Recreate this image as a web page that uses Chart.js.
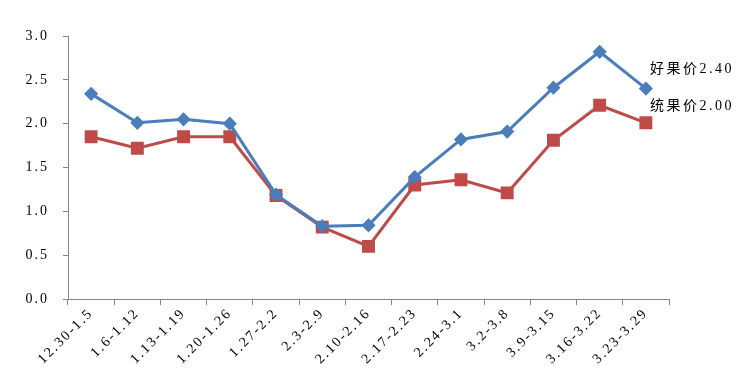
<!DOCTYPE html>
<html><head><meta charset="utf-8">
<script src="https://cdn.jsdelivr.net/npm/chart.js@4/dist/chart.umd.min.js"></script>
<style>html,body{margin:0;padding:0;background:#fff}#wrap{width:749px;height:382px;position:relative}</style>
</head><body><div id="wrap"><canvas id="c"></canvas></div>
<script>
const categories = ["12.30-1.5","1.6-1.12","1.13-1.19","1.20-1.26","1.27-2.2","2.3-2.9","2.10-2.16","2.17-2.23","2.24-3.1","3.2-3.8","3.9-3.15","3.16-3.22","3.23-3.29"];
const goodFruit = [2.34,2.01,2.05,2.00,1.19,0.83,0.84,1.39,1.82,1.91,2.41,2.82,2.40];
const commonFruit = [1.85,1.72,1.85,1.85,1.18,0.82,0.60,1.30,1.36,1.21,1.81,2.21,2.01];
const seriesNames = ["好果价","统果价"];
const labelValues = ["2.40","2.00"];
const yTicks = [0,0.5,1,1.5,2,2.5,3];

const FONT = "'Liberation Serif','Noto Sans CJK SC',serif";
const spacing = {
  id:'spacing',
  beforeLayout(chart){ chart.ctx.letterSpacing = '2px'; },
  beforeDraw(chart){ chart.ctx.letterSpacing = '2px'; }
};
const endLabels = {
  id:'endLabels',
  afterDatasetsDraw(chart){
    const ctx = chart.ctx;
    ctx.save();
    ctx.letterSpacing = '2.5px';
    ctx.font = "14px " + FONT;
    ctx.fillStyle = "#000";
    ctx.textBaseline = "middle";
    ctx.textAlign = "left";
    const offs = [-19,-16];
    chart.data.datasets.forEach((ds,i)=>{
      const meta = chart.getDatasetMeta(i);
      const p = meta.data[meta.data.length-1];
      ctx.fillText(seriesNames[i] + labelValues[i], p.x + 4, p.y + offs[i]);
    });
    ctx.restore();
  }
};

new Chart(document.getElementById('c'), {
  type:'line',
  data:{
    labels: categories,
    datasets:[
      {label:seriesNames[0], data:goodFruit, borderColor:'#4A7EBB', backgroundColor:'#4A7EBB', borderWidth:3, pointStyle:'rectRot', pointRadius:5, pointHoverRadius:5, tension:0},
      {label:seriesNames[1], data:commonFruit, borderColor:'#BE4B48', backgroundColor:'#BE4B48', borderWidth:3, pointStyle:'rect', pointRadius:7, pointHoverRadius:7, tension:0}
    ]
  },
  options:{
    responsive:true, maintainAspectRatio:false, animation:false,
    devicePixelRatio:1,
    layout:{padding:{left:0,right:80,top:36,bottom:0}},
    plugins:{legend:{display:false}, tooltip:{enabled:false}},
    scales:{
      x:{
        offset:true,
        grid:{display:true, drawOnChartArea:false, drawTicks:true, tickLength:6, color:'#868686', offset:true},
        border:{display:true, color:'#868686', width:1},
        ticks:{font:{family:FONT,size:14}, color:'#000', maxRotation:45, minRotation:45, autoSkip:false, padding:0},
        afterFit(s){ s.height = 83; }
      },
      y:{
        min:0, max:3,
        afterBuildTicks(s){ s.ticks = yTicks.map(v=>({value:v})); },
        grid:{display:true, drawOnChartArea:false, drawTicks:true, tickLength:5, color:'#868686'},
        border:{display:true, color:'#868686', width:1},
        ticks:{font:{family:FONT,size:14}, color:'#000', padding:14, callback:v=>Number(v).toFixed(1)},
        afterFit(s){ s.width = 68; }
      }
    }
  },
  plugins:[spacing, endLabels]
});
</script></body></html>
